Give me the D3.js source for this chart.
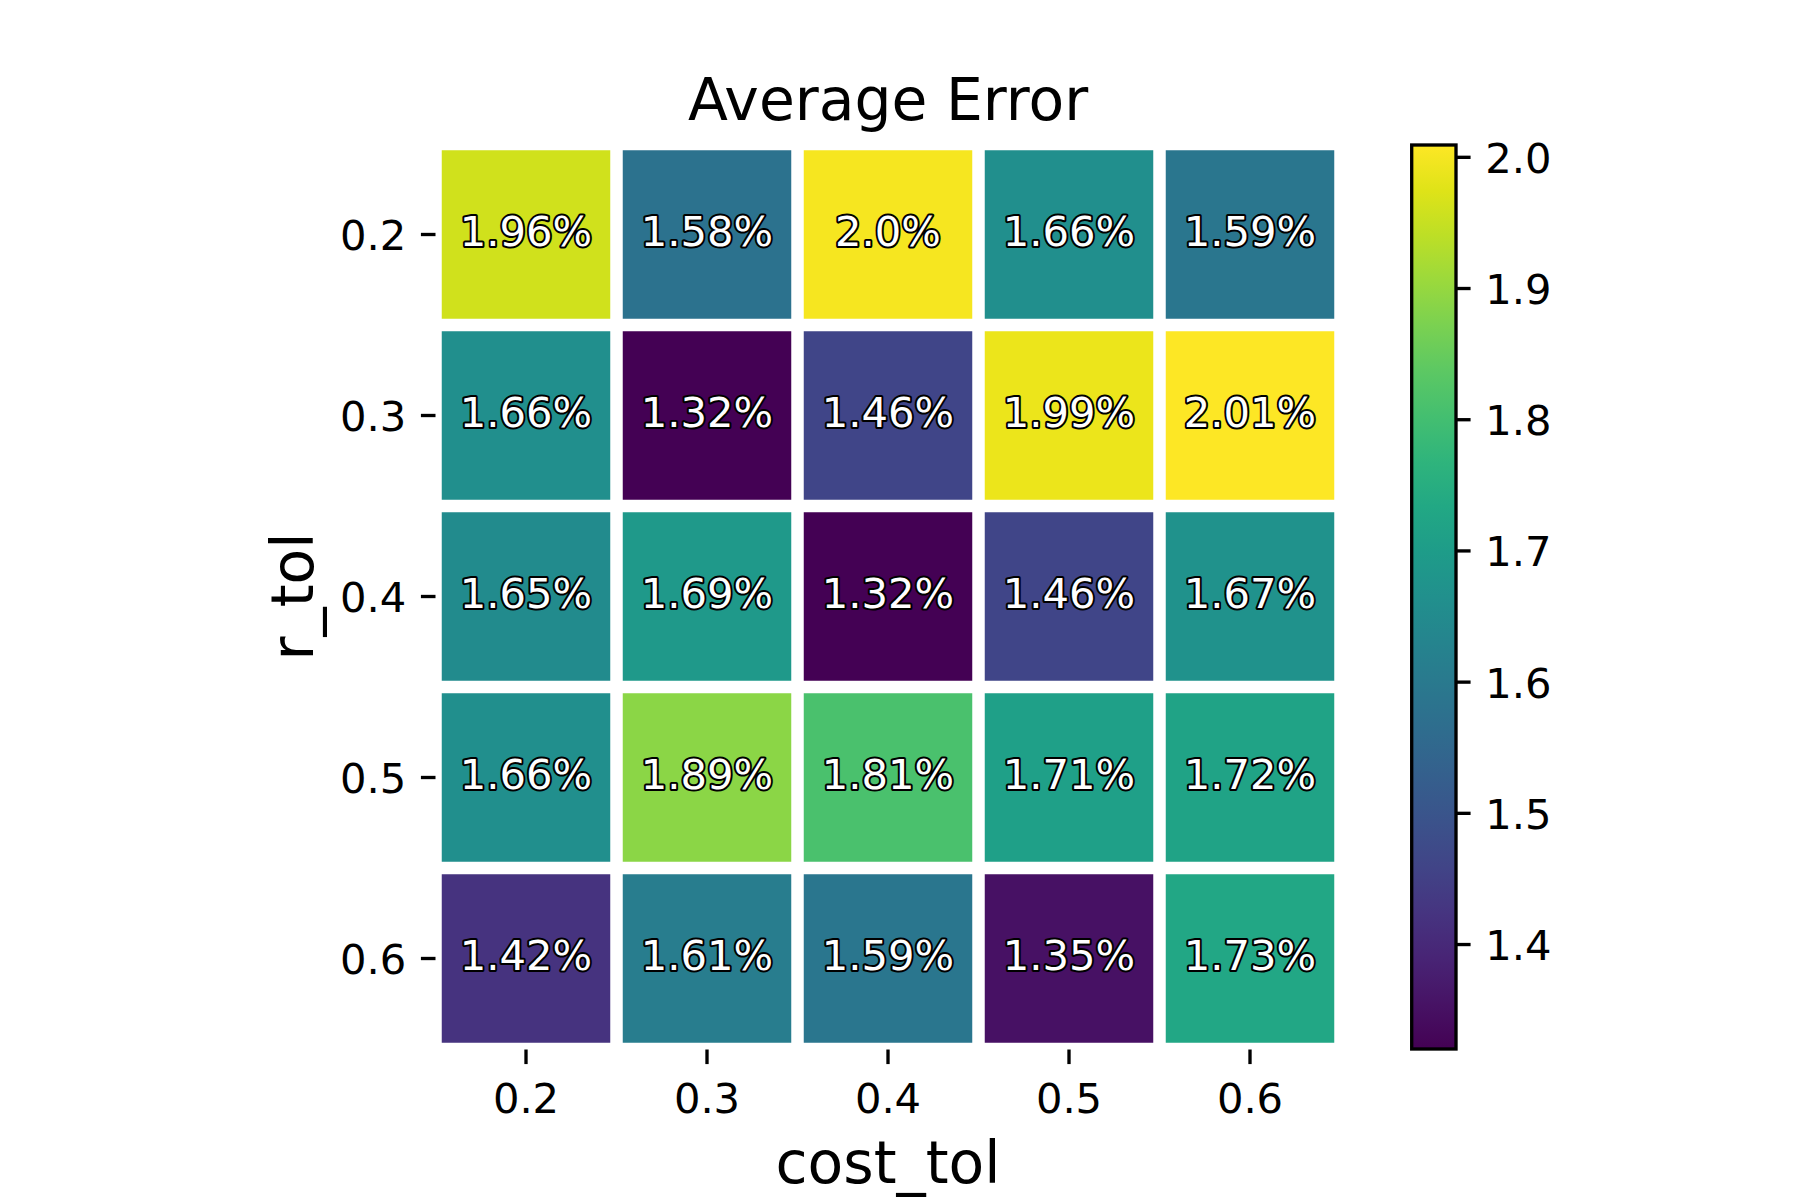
<!DOCTYPE html>
<html>
<head>
<meta charset="utf-8">
<script src="https://cdn.jsdelivr.net/npm/d3@7"></script>
<style>
  html, body { margin: 0; padding: 0; background: #fff; }
  text { font-family: "DejaVu Sans", sans-serif; }
</style>
</head>
<body>
<svg id="chart" width="1800" height="1200"></svg>
<script>
// grid labels (rows = r_tol, columns = cost_tol)
var rTol = ["0.2", "0.3", "0.4", "0.5", "0.6"];
var costTol = ["0.2", "0.3", "0.4", "0.5", "0.6"];

// average error (%) per r_tol row
var errRow02 = [1.96, 1.58, 2.00, 1.66, 1.59];
var errRow03 = [1.66, 1.320, 1.46, 1.99, 2.009];
var errRow04 = [1.65, 1.69, 1.32, 1.46, 1.67];
var errRow05 = [1.66, 1.89, 1.81, 1.71, 1.72];
var errRow06 = [1.42, 1.61, 1.59, 1.35, 1.73];
var errRows = [errRow02, errRow03, errRow04, errRow05, errRow06];

var cbarTicks = [1.4, 1.5, 1.6, 1.7, 1.8, 1.9, 2.0];

var svg = d3.select("#chart");

// layout (300 dpi figure, so 1pt = 4.17px)
var PT = 300 / 72;
var gx0 = 435.5, gx1 = 1340.5, gy0 = 144, gy1 = 1049;
var gap = 12.5;
var tickFont = 10 * PT, labelFont = 14 * PT;

var cells = [];
errRows.forEach(function(row, i){
    row.forEach(function(v, j){
	cells.push({r: rTol[i], c: costTol[j], v: v});
    });
});

var vExt = d3.extent(cells, function(d){ return d.v; });
var color = d3.scaleSequential(d3.interpolateViridis).domain(vExt);

var x = d3.scaleBand().domain(costTol).range([gx0, gx1]);
var y = d3.scaleBand().domain(rTol).range([gy0, gy1]);

// python-ish str(round(v, 2))
function fmt(v){
    var s = String(Math.round(v * 100) / 100);
    if(s.indexOf(".") < 0) s += ".0";
    return s + "%";
}

// cells
svg.append("g").selectAll("rect").data(cells).enter().append("rect")
    .attr("x", function(d){ return x(d.c) + gap / 2; })
    .attr("y", function(d){ return y(d.r) + gap / 2; })
    .attr("width", x.bandwidth() - gap)
    .attr("height", y.bandwidth() - gap)
    .style("fill", function(d){ return color(d.v); });

// annotations: white text with a black outline
svg.append("g").selectAll("text").data(cells).enter().append("text")
    .attr("x", function(d){ return x(d.c) + x.bandwidth() / 2; })
    .attr("y", function(d){ return y(d.r) + y.bandwidth() / 2 + 11.5; })
    .attr("text-anchor", "middle")
    .style("font-size", tickFont + "px")
    .style("fill", "#fff")
    .style("stroke", "#000")
    .style("stroke-width", 4)
    .style("stroke-linejoin", "round")
    .style("paint-order", "stroke")
    .text(function(d){ return fmt(d.v); });

// axes
var tickLen = 3.5 * PT, tickPad = 3.5 * PT, tickW = 0.8 * PT;

var xAxis = svg.append("g")
    .attr("transform", "translate(0," + (gy1 + 0.5) + ")")
    .call(d3.axisBottom(x).tickSize(tickLen).tickPadding(tickPad));
xAxis.select(".domain").remove();
xAxis.selectAll(".tick line").attr("stroke-width", tickW);
xAxis.selectAll(".tick text").attr("dy", null).attr("y", 1112.7 - gy1 - 0.5)
    .style("font-size", tickFont + "px").attr("fill", "#000");

var yAxis = svg.append("g")
    .attr("transform", "translate(" + gx0 + ",0)")
    .call(d3.axisLeft(y).tickSize(tickLen).tickPadding(tickPad));
yAxis.select(".domain").remove();
yAxis.selectAll(".tick line").attr("stroke-width", tickW);
yAxis.selectAll(".tick text").attr("dy", null).attr("y", 15.5)
    .style("font-size", tickFont + "px").attr("fill", "#000");

// titles
svg.append("text")
    .attr("x", (gx0 + gx1) / 2).attr("y", 120)
    .attr("text-anchor", "middle")
    .style("font-size", labelFont + "px")
    .text("Average Error");

svg.append("text")
    .attr("x", (gx0 + gx1) / 2).attr("y", 1183)
    .attr("text-anchor", "middle")
    .style("font-size", labelFont + "px")
    .text("cost_tol");

svg.append("text")
    .attr("transform", "translate(313," + ((gy0 + gy1) / 2) + ") rotate(-90)")
    .attr("text-anchor", "middle")
    .style("font-size", labelFont + "px")
    .text("r_tol");

// colorbar
var cbX0 = 1411.7, cbX1 = 1456, cbY0 = 145, cbY1 = 1049;
var cbScale = d3.scaleLinear().domain(vExt).range([cbY1, cbY0]);

var grad = svg.append("defs").append("linearGradient")
    .attr("id", "cbgrad")
    .attr("x1", 0).attr("y1", 1).attr("x2", 0).attr("y2", 0);
d3.range(0, 1.0001, 0.05).forEach(function(t){
    grad.append("stop")
	.attr("offset", t)
	.attr("stop-color", color(vExt[0] + t * (vExt[1] - vExt[0])));
});

svg.append("rect")
    .attr("x", cbX0).attr("y", cbY0)
    .attr("width", cbX1 - cbX0).attr("height", cbY1 - cbY0)
    .style("fill", "url(#cbgrad)")
    .style("stroke", "#000")
    .style("stroke-width", tickW);

var cbAxis = svg.append("g")
    .attr("transform", "translate(" + cbX1 + ",0)")
    .call(d3.axisRight(cbScale).tickValues(cbarTicks).tickFormat(d3.format(".1f"))
	  .tickSize(tickLen).tickPadding(tickPad));
cbAxis.select(".domain").remove();
cbAxis.selectAll(".tick line").attr("stroke-width", tickW);
cbAxis.selectAll(".tick text").attr("dy", null).attr("y", 15.5)
    .style("font-size", tickFont + "px").attr("fill", "#000");
</script>
</body>
</html>
